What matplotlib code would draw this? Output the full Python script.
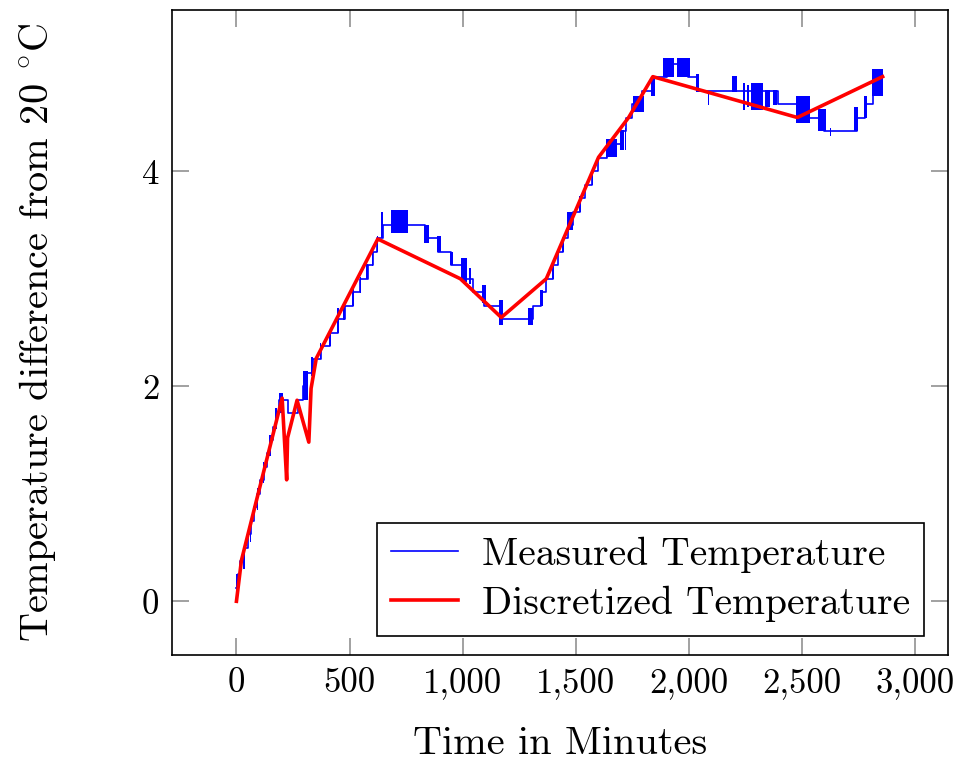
import numpy as np
import matplotlib.pyplot as plt
from matplotlib.ticker import FuncFormatter

plt.rcParams['font.family'] = 'serif'
plt.rcParams['font.serif'] = ['cmr10']
plt.rcParams['mathtext.fontset'] = 'cm'
plt.rcParams['axes.formatter.use_mathtext'] = True

# measured temperature, step levels (time in min, level)
meas_t = [0, 6, 16, 35, 50, 64, 78, 92, 106, 120, 134, 148, 162, 176, 190,
          230, 274, 296, 310, 338, 375, 415, 450, 478, 517, 548, 580, 602,
          623, 650, 835, 893, 950, 1003, 1047, 1095, 1170, 1310, 1348, 1370,
          1400, 1423, 1445, 1467, 1490, 1520, 1542, 1573, 1600, 1638, 1700,
          1722, 1750, 1795, 1838, 1905, 1995, 2040, 2395, 2528, 2600, 2744,
          2780, 2815, 2837, 2860]
meas_v = [0.125, 0.25, 0.375, 0.5, 0.625, 0.75, 0.875, 1.0, 1.125, 1.25,
          1.375, 1.5, 1.625, 1.75, 1.875, 1.75, 1.875, 2.0, 2.125, 2.25,
          2.375, 2.5, 2.625, 2.75, 2.875, 3.0, 3.125, 3.25, 3.375, 3.5,
          3.375, 3.25, 3.125, 3.0, 2.875, 2.75, 2.625, 2.75, 2.875, 3.0,
          3.125, 3.25, 3.375, 3.5, 3.625, 3.75, 3.875, 4.0, 4.125, 4.25,
          4.375, 4.5, 4.625, 4.75, 4.875, 5.0, 4.875, 4.75, 4.625, 4.5,
          4.375, 4.5, 4.625, 4.75, 4.875, 4.875]

# noisy bursts in the measurement (start, end, low, high)
burst_t0 = [0, 30, 60, 90, 118, 145, 172, 186, 296, 330, 368, 410, 445,
            472, 512, 545, 575, 598, 620, 640, 683, 830, 885, 946, 995,
            1030, 1085, 1160, 1290, 1340, 1395, 1440, 1460, 1515, 1570,
            1635, 1698, 1718, 1755, 1835, 1885, 1950, 2030, 2085, 2192,
            2240, 2258, 2275, 2335, 2372, 2475, 2572, 2625, 2730, 2775, 2810]
burst_t1 = [5, 36, 66, 96, 124, 151, 178, 206, 318, 338, 376, 416, 452,
            480, 520, 551, 581, 604, 626, 650, 760, 850, 905, 958, 1018,
            1036, 1105, 1180, 1310, 1355, 1402, 1447, 1490, 1522, 1577,
            1683, 1712, 1724, 1800, 1850, 1935, 2005, 2045, 2089, 2214,
            2250, 2268, 2330, 2360, 2390, 2536, 2605, 2629, 2750, 2790, 2860]
burst_lo = [0.03, 0.3, 0.55, 0.85, 1.1, 1.35, 1.6, 1.75, 1.875, 2.1, 2.25,
            2.375, 2.5, 2.62, 2.75, 2.87, 3.0, 3.12, 3.25, 3.375, 3.43,
            3.33, 3.25, 3.125, 2.97, 2.95, 2.77, 2.57, 2.57, 2.75, 3.0,
            3.25, 3.45, 3.62, 3.87, 4.13, 4.2, 4.2, 4.55, 4.7, 4.88, 4.88,
            4.74, 4.62, 4.74, 4.57, 4.6, 4.57, 4.6, 4.62, 4.45, 4.37, 4.33,
            4.37, 4.5, 4.7]
burst_hi = [0.25, 0.5, 0.75, 1.05, 1.3, 1.55, 1.8, 1.94, 2.14, 2.27, 2.4,
            2.52, 2.73, 2.77, 2.92, 3.02, 3.14, 3.27, 3.4, 3.62, 3.64, 3.5,
            3.4, 3.25, 3.19, 3.1, 2.94, 2.8, 2.73, 2.9, 3.14, 3.38, 3.62,
            3.77, 4.02, 4.3, 4.38, 4.4, 4.7, 4.88, 5.05, 5.05, 4.9, 4.75,
            4.89, 4.82, 4.8, 4.82, 4.76, 4.76, 4.7, 4.58, 4.4, 4.6, 4.7, 4.95]

# discretized temperature
disc_t = [0, 22, 202, 222, 226, 268, 320, 330, 353, 625, 990, 1171, 1370,
          1601, 1734, 1841, 2480, 2857]
disc_v = [0, 0.38, 1.89, 1.13, 1.52, 1.87, 1.48, 1.98, 2.26, 3.37, 3.00,
          2.64, 3.00, 4.13, 4.50, 4.88, 4.50, 4.88]

fig = plt.figure(figsize=(9.63, 7.63), dpi=100)
ax = fig.add_axes([0.1786, 0.1415, 0.8058, 0.8454])

ax.plot(meas_t, meas_v, color='blue', lw=1.2, drawstyle='steps-post',
        label='Measured Temperature', zorder=2)
for a, b, lo, hi in zip(burst_t0, burst_t1, burst_lo, burst_hi):
    ax.fill_between([a, b], lo, hi, color='blue', lw=0, zorder=2)
ax.plot(disc_t, disc_v, color='red', lw=2.6, label='Discretized Temperature',
        zorder=3)

ax.set_xlim(-285, 3146)
ax.set_ylim(-0.5, 5.5)
ax.set_xticks([0, 500, 1000, 1500, 2000, 2500, 3000])
ax.set_yticks([0, 2, 4])
ax.xaxis.set_major_formatter(FuncFormatter(lambda v, p: '{:,}'.format(int(v))))
ax.tick_params(direction='in', length=12, width=1.1, color='#888888',
               top=True, right=True, labelsize=25, pad=9)
for s in ax.spines.values():
    s.set_linewidth(1.2)

ax.set_xlabel('Time in Minutes', fontsize=29, labelpad=19)
ax.set_ylabel(r'Temperature difference from 20 $^{\circ}$C', fontsize=29,
              labelpad=60)

leg = ax.legend(loc='lower right', bbox_to_anchor=(0.969, 0.0295),
                borderaxespad=0, fontsize=28.5, fancybox=False,
                edgecolor='black', framealpha=1, handlelength=1.7,
                labelspacing=0.32, borderpad=0.35, handletextpad=0.6)
leg.get_frame().set_linewidth(1.2)

fig.savefig('out.png', dpi=100)
